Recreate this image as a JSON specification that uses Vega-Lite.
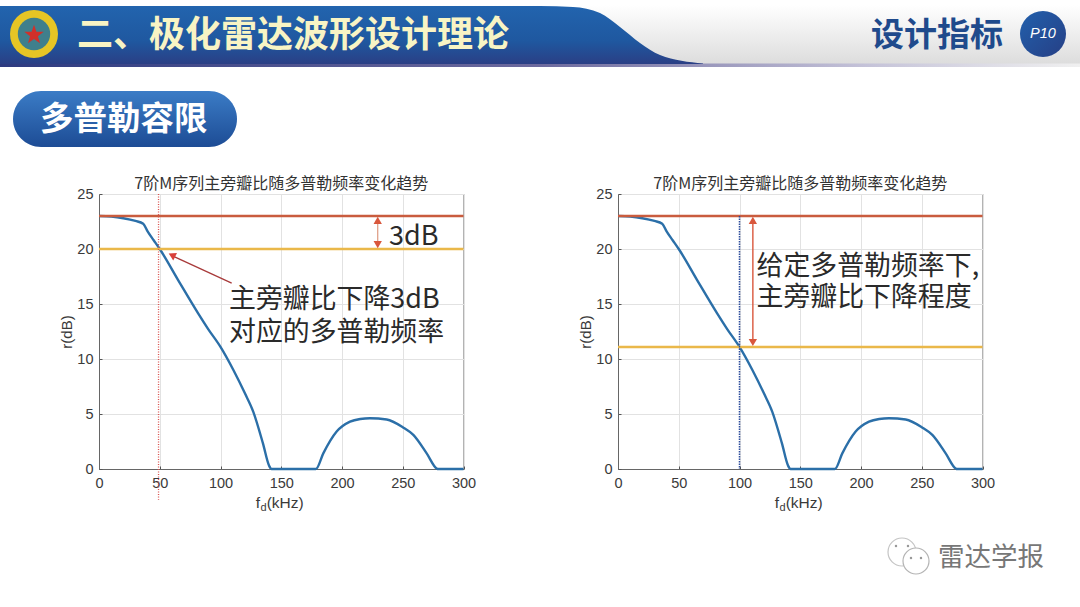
{
"$schema":"https://vega.github.io/schema/vega-lite/v6.json",
"padding":0,
"background":"#ffffff",
"bounds":"flush",
"spacing":0,
"config":{
 "font":"Liberation Sans",
 "axis":{"gridColor":"#e2e2e2","gridWidth":1,"labelFont":"Liberation Sans","labelFontSize":14.5,"labelColor":"#3a3a3a","labelFlush":false,"tickColor":"#555555","tickSize":-3,"domainColor":"#666666","titleFont":"Liberation Sans","titleFontWeight":"normal","titleFontSize":15,"titleColor":"#3a3a3a"},
 "view":{"stroke":"#666666"},
 "title":{"font":"Noto Sans CJK SC","fontSize":16,"fontWeight":"normal","color":"#333333","anchor":"middle","offset":-6}
},
"datasets":{"curve":[
 {"x":0,"y":23},{"x":10,"y":22.95},{"x":20,"y":22.8},{"x":30,"y":22.55},{"x":36.4,"y":22.3},{"x":40,"y":21.6},{"x":45,"y":20.8},{"x":50,"y":20},{"x":65,"y":17.2},{"x":81.6,"y":14.15},{"x":90,"y":12.7},{"x":100,"y":11.1},{"x":110.6,"y":9},{"x":120,"y":6.9},{"x":127,"y":5.2},{"x":135,"y":2.3},{"x":140,"y":0.3},{"x":142,"y":0},{"x":178.5,"y":0},{"x":184.6,"y":1.42},{"x":195.6,"y":3.4},{"x":206.6,"y":4.3},{"x":215,"y":4.55},{"x":223,"y":4.62},{"x":236.8,"y":4.5},{"x":250,"y":3.8},{"x":258.7,"y":3.1},{"x":269.7,"y":1.42},{"x":277.9,"y":0.05},{"x":279,"y":0},{"x":300,"y":0}
]},
"vconcat":[
 {"width":1080,"height":194,"view":{"stroke":null},
  "encoding":{
   "x":{"field":"x","type":"quantitative","scale":{"domain":[0,1080],"nice":false,"zero":false},"axis":null},
   "y":{"field":"y","type":"quantitative","scale":{"domain":[0,194],"nice":false,"zero":false,"reverse":true},"axis":null}
  },
  "layer":[
   {"data":{"values":[{"x":0,"x2":1080,"y":5,"y2":65}]},
    "mark":{"type":"rect","color":{"gradient":"linear","x1":0,"y1":0,"x2":0,"y2":1,"stops":[{"offset":0,"color":"#ffffff"},{"offset":1,"color":"#dcdcdc"}]}},
    "encoding":{"x2":{"field":"x2"},"y2":{"field":"y2"}}},
   {"data":{"values":[{"x":0,"x2":1080,"y":63.5,"y2":67}]},
    "mark":{"type":"rect","color":{"gradient":"linear","x1":0,"y1":0,"x2":1,"y2":0,"stops":[{"offset":0,"color":"#2d3a80"},{"offset":0.5,"color":"#6d6a9e"},{"offset":0.8,"color":"#c4c2d8"},{"offset":1,"color":"#f0f0f0"}]}},
    "encoding":{"x2":{"field":"x2"},"y2":{"field":"y2"}}},
   {"data":{"values":[{"x":0,"y":6,"y2":64},{"x":540,"y":6,"y2":64},{"x":573,"y":7,"y2":64},{"x":600,"y":13,"y2":64},{"x":620,"y":27,"y2":64},{"x":640,"y":43,"y2":64},{"x":660,"y":55,"y2":64},{"x":703,"y":63.5,"y2":64}]},
    "mark":{"type":"area","interpolate":"monotone","color":{"gradient":"linear","x1":0,"y1":0,"x2":0,"y2":1,"stops":[{"offset":0,"color":"#2264ae"},{"offset":0.6,"color":"#1f58a0"},{"offset":1,"color":"#2a3f85"}]}},
    "encoding":{"y2":{"field":"y2"}}},
   {"data":{"values":[{"x":34,"y":34}]},"mark":{"type":"point","filled":true,"color":"#e6c525","size":2304,"shape":"circle","opacity":1}},
   {"data":{"values":[{"x":34,"y":34}]},"mark":{"type":"point","filled":true,"color":"#3f7f8c","size":1050,"shape":"circle","opacity":1}},
   {"data":{"values":[{"x":34,"y":35}]},"mark":{"type":"point","filled":true,"color":"#d0302a","size":420,"shape":"M0,-1L0.24,-0.31L0.95,-0.31L0.38,0.12L0.59,0.81L0,0.4L-0.59,0.81L-0.38,0.12L-0.95,-0.31L-0.24,-0.31Z","opacity":1}},
   {"data":{"values":[{"x":77,"y":36,"t":"二、极化雷达波形设计理论"}]},
    "mark":{"type":"text","font":"Noto Sans CJK SC","fontWeight":"bold","fontSize":36,"align":"left","baseline":"middle","color":"#f8f4c4"},
    "encoding":{"text":{"field":"t"}}},
   {"data":{"values":[{"x":871,"y":36,"t":"设计指标"}]},
    "mark":{"type":"text","font":"Noto Sans CJK SC","fontWeight":"bold","fontSize":33,"align":"left","baseline":"middle","color":"#1f4a8c"},
    "encoding":{"text":{"field":"t"}}},
   {"data":{"values":[{"x":1043,"y":34}]},
    "mark":{"type":"point","filled":true,"size":2116,"shape":"circle","opacity":1,"color":{"gradient":"linear","x1":0,"y1":0,"x2":1,"y2":1,"stops":[{"offset":0,"color":"#2260ac"},{"offset":1,"color":"#263f85"}]}}},
   {"data":{"values":[{"x":1043,"y":34,"t":"P10"}]},
    "mark":{"type":"text","font":"Liberation Sans","fontStyle":"italic","fontSize":14.5,"align":"center","baseline":"middle","color":"#ffffff"},
    "encoding":{"text":{"field":"t"}}},
   {"data":{"values":[{"x":13,"x2":237,"y":91,"y2":147}]},
    "mark":{"type":"rect","cornerRadius":28,"color":{"gradient":"linear","x1":0,"y1":0,"x2":0,"y2":1,"stops":[{"offset":0,"color":"#3b7cc6"},{"offset":1,"color":"#1d4c95"}]}},
    "encoding":{"x2":{"field":"x2"},"y2":{"field":"y2"}}},
   {"data":{"values":[{"x":40,"y":120,"t":"多普勒容限"}]},
    "mark":{"type":"text","font":"Noto Sans CJK SC","fontWeight":"bold","fontSize":33.5,"align":"left","baseline":"middle","color":"#ffffff"},
    "encoding":{"text":{"field":"t"}}}
  ]
 },
 {"hconcat":[
   {"width":99,"height":275,"view":{"stroke":null},"data":{"values":[{"x":0}]},"mark":{"type":"point","opacity":0},"encoding":{}},
   {"width":364.5,"height":275,
    "title":"7阶M序列主旁瓣比随多普勒频率变化趋势",
    "encoding":{
     "x":{"field":"x","type":"quantitative","scale":{"domain":[0,300],"nice":false},"axis":{"title":null,"values":[0,50,100,150,200,250,300],"labelPadding":10,"labelOverlap":false}},
     "y":{"field":"y","type":"quantitative","scale":{"domain":[0,25],"nice":false},"axis":{"title":"r(dB)","values":[0,5,10,15,20,25],"labelPadding":9,"titlePadding":2}}
    },
    "layer":[
     {"data":{"name":"curve"},"mark":{"type":"line","color":"#2b6fa8","strokeWidth":2.4,"interpolate":"monotone"}},
     {"data":{"values":[{"x":0,"y":23},{"x":300,"y":23}]},"mark":{"type":"line","color":"#c95c3e","strokeWidth":2.5}},
     {"data":{"values":[{"x":0,"y":20},{"x":300,"y":20}]},"mark":{"type":"line","color":"#eab84a","strokeWidth":2.5}},
     {"data":{"values":[{"x":49,"y":25},{"x":49,"y":-2.8}]},"mark":{"type":"line","color":"#d9534f","strokeWidth":1.3,"strokeDash":[1,1.5]}},
     {"data":{"values":[{"x":229.4,"y":22.6},{"x":229.4,"y":20.4}]},"mark":{"type":"line","color":"#dd9a80","strokeWidth":1.2}},
     {"data":{"values":[{"x":229.4,"y":22.6}]},"mark":{"type":"point","filled":true,"opacity":1,"shape":"triangle-up","size":70,"color":"#d9573c"}},
     {"data":{"values":[{"x":229.4,"y":20.4}]},"mark":{"type":"point","filled":true,"opacity":1,"shape":"triangle-down","size":70,"color":"#d9573c"}},
     {"data":{"values":[{"x":109.2,"y":16.9},{"x":60,"y":19.4}]},"mark":{"type":"line","color":"#a83a3a","strokeWidth":1.3}},
     {"data":{"values":[{"x":60,"y":19.45}]},"mark":{"type":"point","filled":true,"opacity":1,"shape":"triangle-up","size":70,"angle":297,"color":"#d9403a"}},
     {"data":{"values":[{"x":238.7,"y":21.1,"t":"3dB","s":27},{"x":107,"y":15.36,"t":"主旁瓣比下降3dB","s":26.9},{"x":107,"y":12.36,"t":"对应的多普勒频率","s":26.9}]},
      "mark":{"type":"text","font":"Noto Sans CJK SC","align":"left","baseline":"middle","color":"#2a2a2a"},
      "encoding":{"text":{"field":"t"},"size":{"field":"s","type":"quantitative","scale":null}}},
     {"data":{"values":[{"x":129,"y":-3.1,"t":"f","s":15.5},{"x":133,"y":-3.5,"t":"d","s":11},{"x":138,"y":-3.1,"t":"(kHz)","s":15.5}]},
      "mark":{"type":"text","font":"Liberation Sans","align":"left","baseline":"middle","color":"#3a3a3a"},
      "encoding":{"text":{"field":"t"},"size":{"field":"s","type":"quantitative","scale":null}}}
    ]
   },
   {"width":154,"height":275,"view":{"stroke":null},"data":{"values":[{"x":0}]},"mark":{"type":"point","opacity":0},"encoding":{}},
   {"width":364.5,"height":275,
    "title":"7阶M序列主旁瓣比随多普勒频率变化趋势",
    "encoding":{
     "x":{"field":"x","type":"quantitative","scale":{"domain":[0,300],"nice":false},"axis":{"title":null,"values":[0,50,100,150,200,250,300],"labelPadding":10,"labelOverlap":false}},
     "y":{"field":"y","type":"quantitative","scale":{"domain":[0,25],"nice":false},"axis":{"title":"r(dB)","values":[0,5,10,15,20,25],"labelPadding":9,"titlePadding":2}}
    },
    "layer":[
     {"data":{"name":"curve"},"mark":{"type":"line","color":"#2b6fa8","strokeWidth":2.4,"interpolate":"monotone"}},
     {"data":{"values":[{"x":0,"y":23},{"x":300,"y":23}]},"mark":{"type":"line","color":"#c95c3e","strokeWidth":2.5}},
     {"data":{"values":[{"x":0,"y":11.1},{"x":300,"y":11.1}]},"mark":{"type":"line","color":"#eab84a","strokeWidth":2.5}},
     {"data":{"values":[{"x":100,"y":23},{"x":100,"y":0}]},"mark":{"type":"line","color":"#2a4a9a","strokeWidth":1.5,"strokeDash":[1.5,1]}},
     {"data":{"values":[{"x":111,"y":22.6},{"x":111,"y":11.5}]},"mark":{"type":"line","color":"#d9573c","strokeWidth":1.4}},
     {"data":{"values":[{"x":111,"y":22.6}]},"mark":{"type":"point","filled":true,"opacity":1,"shape":"triangle-up","size":70,"color":"#d9573c"}},
     {"data":{"values":[{"x":111,"y":11.5}]},"mark":{"type":"point","filled":true,"opacity":1,"shape":"triangle-down","size":70,"color":"#d9573c"}},
     {"data":{"values":[{"x":114,"y":18.36,"t":"给定多普勒频率下,","s":26.9},{"x":114,"y":15.55,"t":"主旁瓣比下降程度","s":26.9}]},
      "mark":{"type":"text","font":"Noto Sans CJK SC","align":"left","baseline":"middle","color":"#2a2a2a"},
      "encoding":{"text":{"field":"t"},"size":{"field":"s","type":"quantitative","scale":null}}},
     {"data":{"values":[{"x":129,"y":-3.1,"t":"f","s":15.5},{"x":133,"y":-3.5,"t":"d","s":11},{"x":138,"y":-3.1,"t":"(kHz)","s":15.5}]},
      "mark":{"type":"text","font":"Liberation Sans","align":"left","baseline":"middle","color":"#3a3a3a"},
      "encoding":{"text":{"field":"t"},"size":{"field":"s","type":"quantitative","scale":null}}}
    ]
   }
  ],
  "bounds":"flush","spacing":0
 },
 {"width":1080,"height":413,"view":{"stroke":null},
  "encoding":{
   "x":{"field":"x","type":"quantitative","scale":{"domain":[0,1080],"nice":false,"zero":false},"axis":null},
   "y":{"field":"y","type":"quantitative","scale":{"domain":[194,607],"nice":false,"zero":false,"reverse":true},"axis":null}
  },
  "layer":[
   {"data":{"values":[{"x":902,"y":552}]},"mark":{"type":"point","shape":"circle","size":784,"fill":"#ffffff","fillOpacity":1,"stroke":"#c4c4c4","strokeWidth":1.2,"opacity":1}},
   {"data":{"values":[{"x":916,"y":561}]},"mark":{"type":"point","shape":"circle","size":676,"fill":"#ffffff","fillOpacity":1,"stroke":"#b4b4b4","strokeWidth":1.2,"opacity":1}},
   {"data":{"values":[{"x":896,"y":546},{"x":908,"y":546},{"x":911,"y":558},{"x":921,"y":558}]},"mark":{"type":"point","filled":true,"shape":"circle","size":6,"color":"#999999","opacity":1}},
   {"data":{"values":[{"x":938,"y":558,"t":"雷达学报"}]},
    "mark":{"type":"text","font":"Noto Sans CJK SC","fontSize":26.5,"align":"left","baseline":"middle","color":"#777777"},
    "encoding":{"text":{"field":"t"}}}
  ]
 }
]
}
